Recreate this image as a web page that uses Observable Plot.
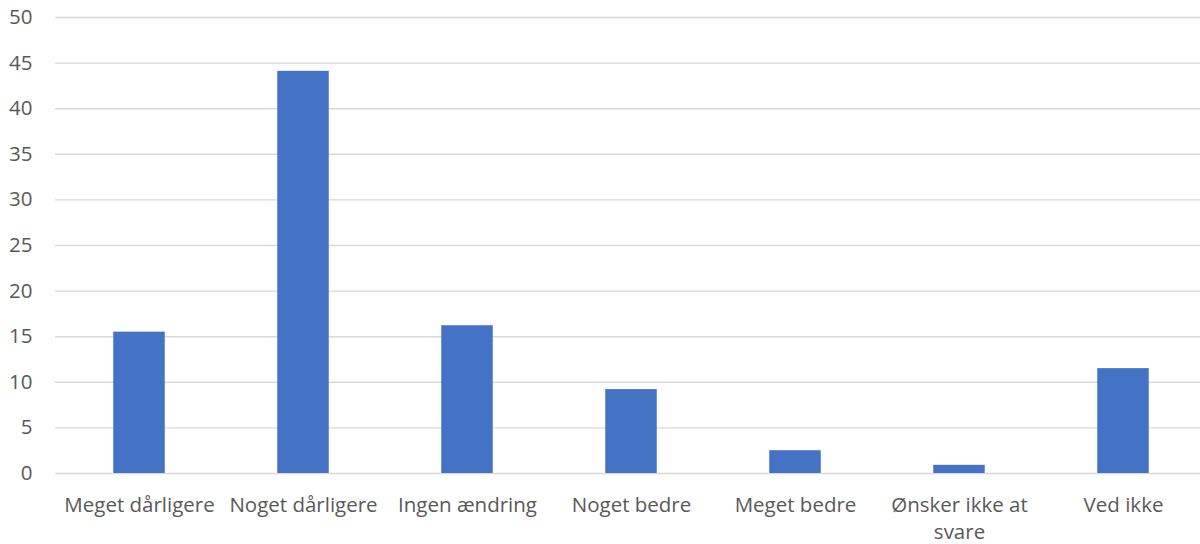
<!DOCTYPE html>
<html>
<head>
<meta charset="utf-8">
<script src="https://cdn.jsdelivr.net/npm/d3@7"></script>
<script src="https://cdn.jsdelivr.net/npm/@observablehq/plot@0.6"></script>
<style>
  html, body { margin: 0; padding: 0; background: #fff; }
  #chart { width: 1200px; height: 544px; overflow: hidden; }
</style>
</head>
<body>
<div id="chart"></div>
<script>
const categories = ["Meget dårligere", "Noget dårligere", "Ingen ændring", "Noget bedre", "Meget bedre", "Ønsker ikke at svare", "Ved ikke"];
const values = [15.5, 44.1, 16.2, 9.2, 2.5, 0.9, 11.5];
const yTicks = [0, 5, 10, 15, 20, 25, 30, 35, 40, 45, 50];
const wrappedLabels = {"Ønsker ikke at svare": "Ønsker ikke at\nsvare"};

const data = categories.map((c, i) => ({category: c, value: values[i]}));

const chart = Plot.plot({
  width: 1200,
  height: 544,
  marginLeft: 55,
  marginRight: -6.5,
  marginTop: 17,
  marginBottom: 71,
  style: {fontFamily: "'Open Sans', sans-serif", fontSize: "20.5px", color: "#595959", background: "#fff"},
  x: {domain: categories, padding: 0, label: null},
  y: {domain: [0, 50], label: null},
  marks: [
    Plot.gridY(yTicks, {stroke: "#d9d9d9", strokeOpacity: 1, strokeWidth: 1.4}),
    Plot.barY(data, {x: "category", y: "value", fill: "#4472c4", insetLeft: 56.25, insetRight: 56.25}),
    Plot.axisY(yTicks, {tickSize: 0, tickPadding: 23, fontSize: 20.5, fill: "#595959", label: null}),
    Plot.axisX({tickSize: 0, tickPadding: 19, fontSize: 20.5, fill: "#595959", lineHeight: 1.32, label: null,
      tickFormat: d => wrappedLabels[d] || d})
  ]
});
document.getElementById("chart").appendChild(chart);
</script>
</body>
</html>
